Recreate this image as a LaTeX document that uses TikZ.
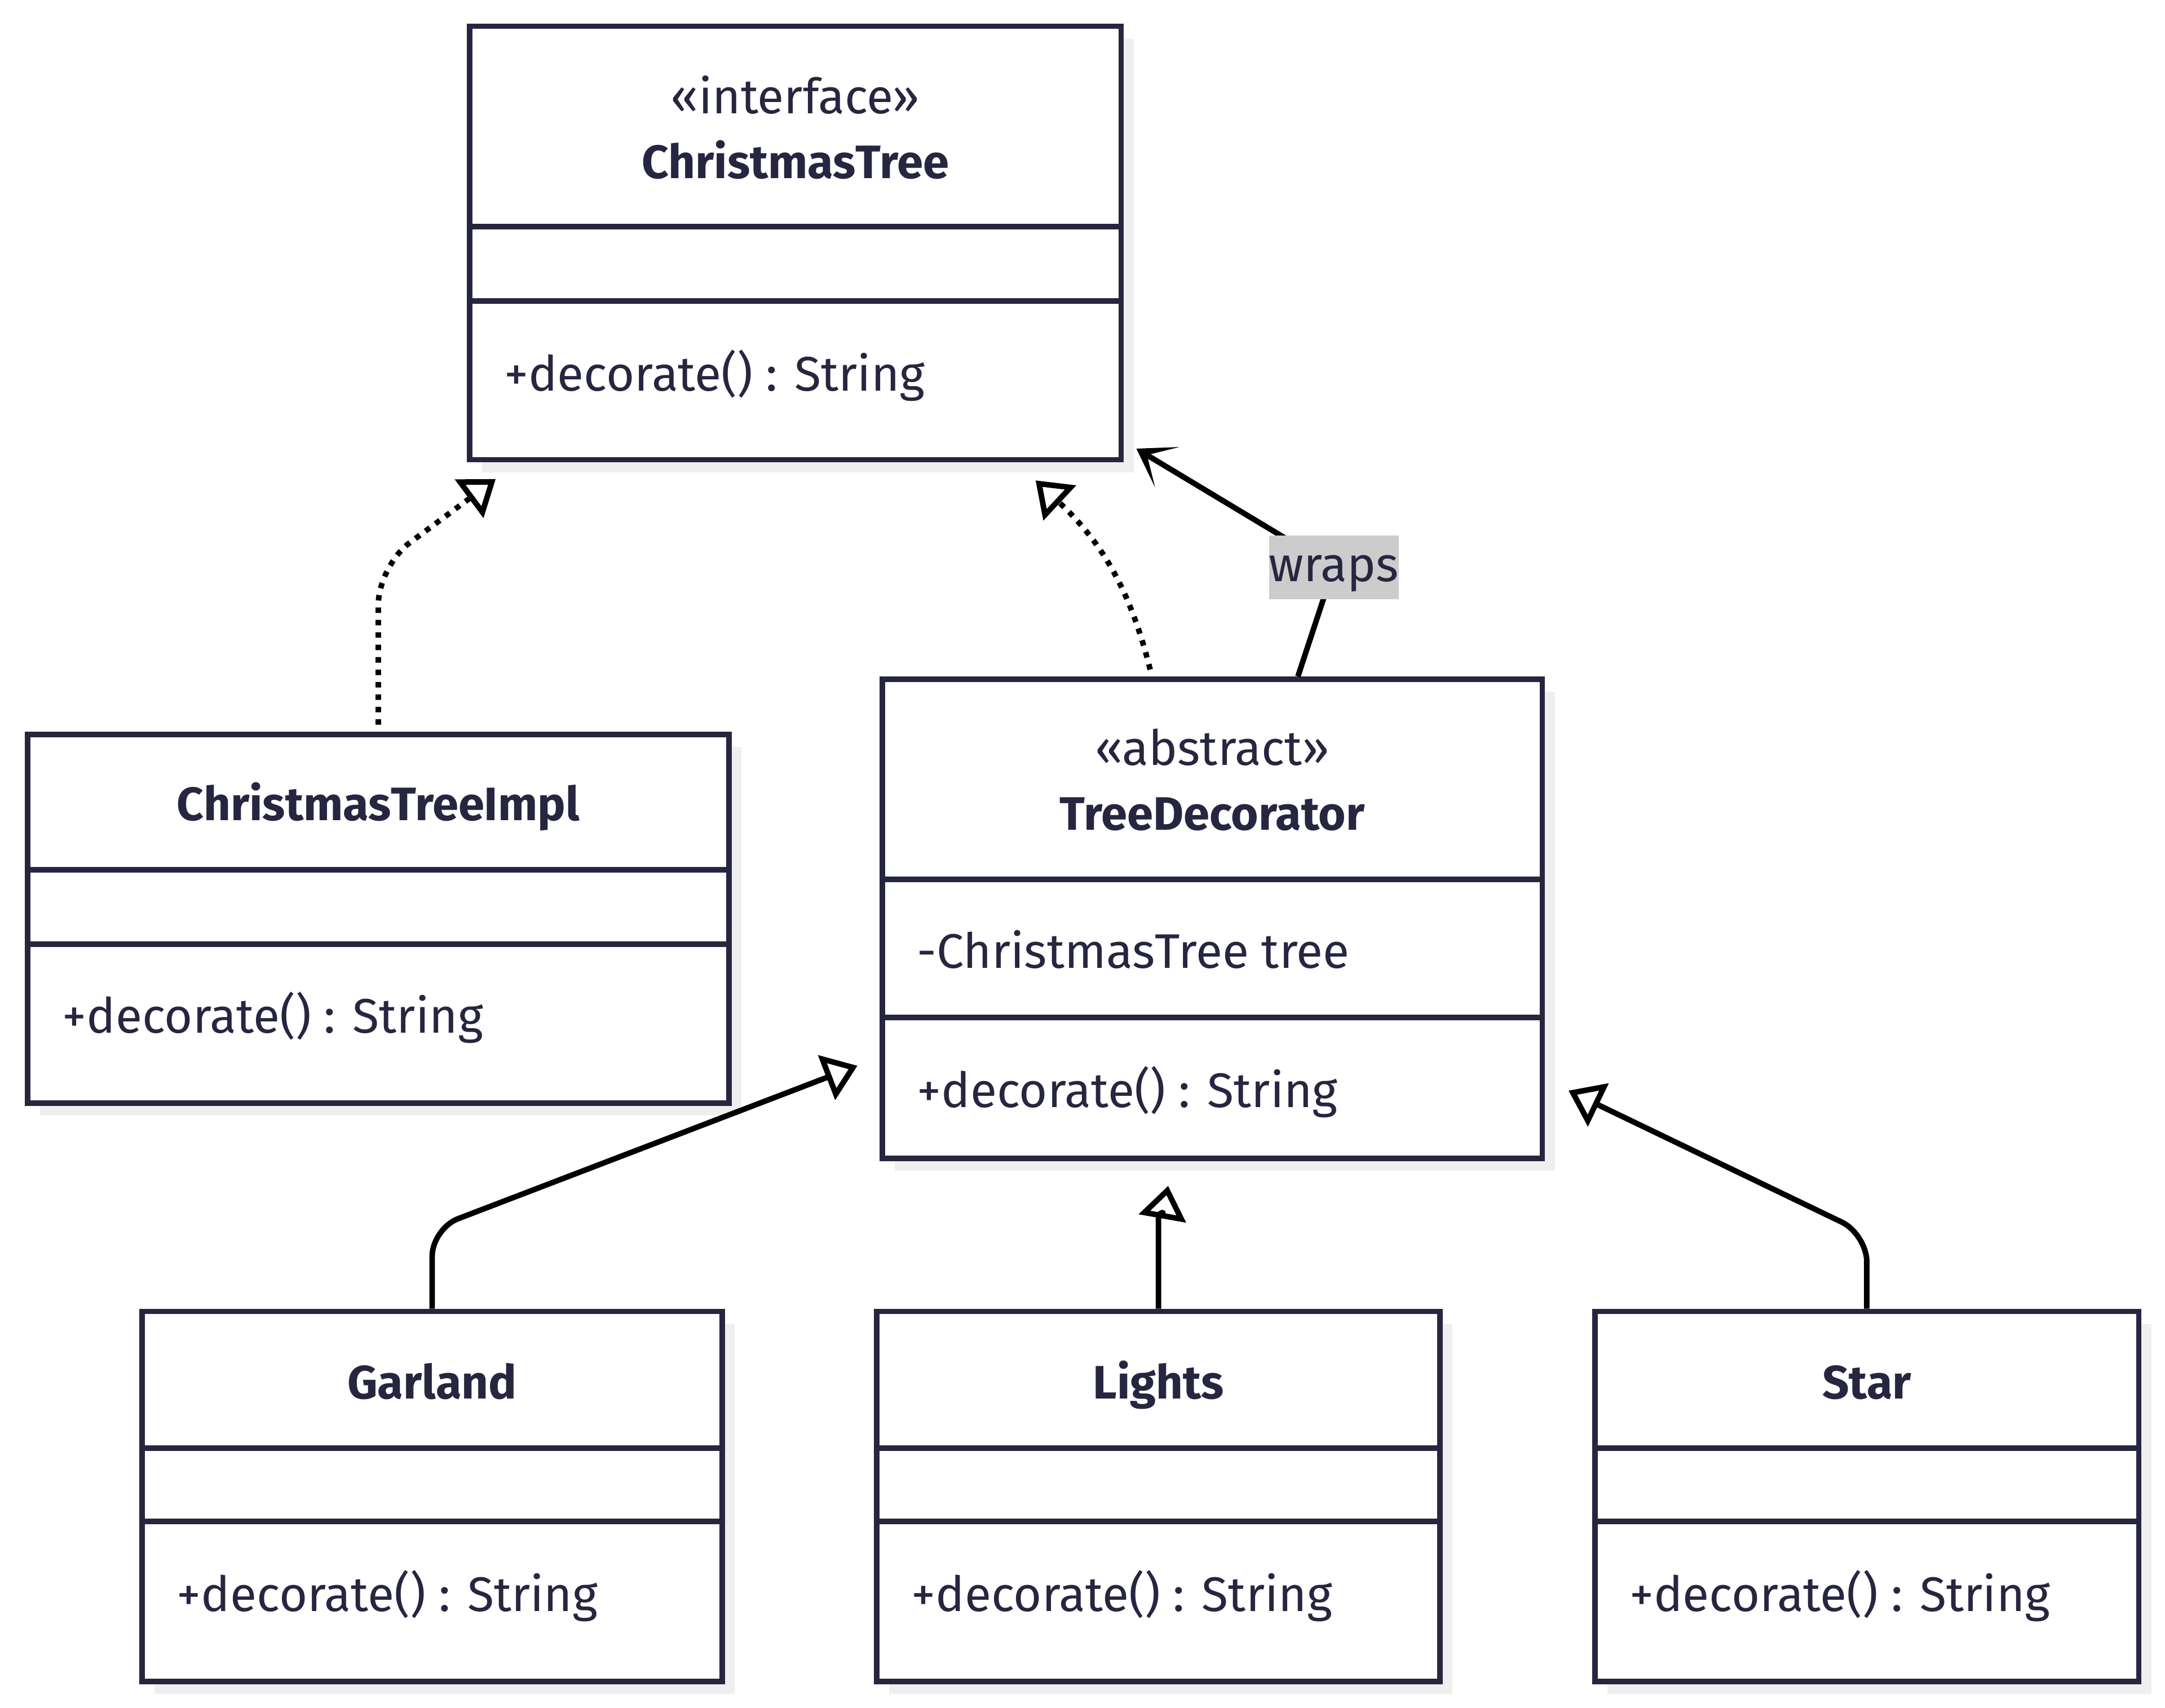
\documentclass[tikz,border=0pt]{standalone}
\usepackage{fontspec}
\setmainfont{Fira Sans}
\usetikzlibrary{arrows.meta,shadows}
\definecolor{ink}{HTML}{272640}
\definecolor{shade}{HTML}{EFEFEF}
\definecolor{labelgray}{HTML}{CCCCCC}

\begin{document}
\begin{tikzpicture}[x=1pt, y=1pt,
  classbox/.style={draw=ink, line width=\lw, fill=white, anchor=north west, inner sep=0pt,
    drop shadow={shadow xshift=9pt, shadow yshift=-9pt, fill=shade, opacity=1}},
  divider/.style={draw=ink, line width=\lw},
  stereo/.style={text=ink, font=\fontsize{\fs}{\fs}\selectfont, inner sep=0pt, anchor=mid, yshift=-9.5pt},
  classname/.style={stereo, font=\bfseries\fontsize{\bfs}{\bfs}\selectfont},
  member/.style={stereo, anchor=mid west},
  realize/.style={line width=\lw, dash pattern=on 4pt off 5pt, -{Triangle[open, length=24pt, width=34pt]}},
  inherit/.style={line width=\lw, rounded corners=20pt, -{Triangle[open, length=24pt, width=34pt]}},
  assoc/.style={line width=\lw, -{Stealth[length=26pt, width=34pt, inset=17pt]}},
  edgelabel/.style={fill=labelgray, text=ink, font=\fontsize{\fs}{\fs}\selectfont,
    inner sep=0pt, text height=20pt, text depth=0pt, minimum width=91pt, minimum height=46pt}]
\def\lw{4pt}    % line width of boxes and arrows
\def\fs{35.2}   % font size
\def\bfs{34}    % font size of class names
\def\pad{27pt}  % left padding of members

\useasboundingbox (0,0) rectangle (1568,-1237);

% the interface
\node[classbox, minimum width=472pt, minimum height=314pt] (tree) at (338,-17) {};
\draw[divider] ([yshift=-147pt]tree.north west) -- ([yshift=-147pt]tree.north east);
\draw[divider] ([yshift=-201pt]tree.north west) -- ([yshift=-201pt]tree.north east);
\node[stereo] (tree-st) at ([yshift=-53pt]tree.north) {«interface»};
\node[classname] (tree-nm) at ([yshift=-100pt]tree.north) {ChristmasTree};
\node[member] (tree-op) at ([xshift=\pad, yshift=-254pt]tree.north west) {+decorate() : String};

% the implementation
\node[classbox, minimum width=508pt, minimum height=267pt] (impl) at (18,-530) {};
\draw[divider] ([yshift=-100pt]impl.north west) -- ([yshift=-100pt]impl.north east);
\draw[divider] ([yshift=-154pt]impl.north west) -- ([yshift=-154pt]impl.north east);
\node[classname] (impl-nm) at ([yshift=-52pt]impl.north) {ChristmasTreeImpl};
\node[member] (impl-op) at ([xshift=\pad, yshift=-206pt]impl.north west) {+decorate() : String};

% the abstract decorator
\node[classbox, minimum width=478pt, minimum height=347pt] (dec) at (637,-490) {};
\draw[divider] ([yshift=-147pt]dec.north west) -- ([yshift=-147pt]dec.north east);
\draw[divider] ([yshift=-247pt]dec.north west) -- ([yshift=-247pt]dec.north east);
\node[stereo] (dec-st) at ([yshift=-52pt]dec.north) {«abstract»};
\node[classname] (dec-nm) at ([yshift=-99pt]dec.north) {TreeDecorator};
\node[member] (dec-at) at ([xshift=\pad, yshift=-199pt]dec.north west) {-ChristmasTree tree};
\node[member] (dec-op) at ([xshift=\pad, yshift=-300pt]dec.north west) {+decorate() : String};

% the concrete decorators
\node[classbox, minimum width=420pt, minimum height=268pt] (garland) at (101,-948) {};
\draw[divider] ([yshift=-101pt]garland.north west) -- ([yshift=-101pt]garland.north east);
\draw[divider] ([yshift=-154pt]garland.north west) -- ([yshift=-154pt]garland.north east);
\node[classname] (garland-nm) at ([yshift=-53pt]garland.north) {Garland};
\node[member] (garland-op) at ([xshift=\pad, yshift=-207pt]garland.north west) {+decorate() : String};

\node[classbox, minimum width=408pt, minimum height=268pt] (lights) at (633,-948) {};
\draw[divider] ([yshift=-101pt]lights.north west) -- ([yshift=-101pt]lights.north east);
\draw[divider] ([yshift=-154pt]lights.north west) -- ([yshift=-154pt]lights.north east);
\node[classname] (lights-nm) at ([yshift=-53pt]lights.north) {Lights};
\node[member] (lights-op) at ([xshift=\pad, yshift=-207pt]lights.north west) {+decorate() : String};

\node[classbox, minimum width=394pt, minimum height=268pt] (star) at (1153,-948) {};
\draw[divider] ([yshift=-101pt]star.north west) -- ([yshift=-101pt]star.north east);
\draw[divider] ([yshift=-154pt]star.north west) -- ([yshift=-154pt]star.north east);
\node[classname] (star-nm) at ([yshift=-53pt]star.north) {Star};
\node[member] (star-op) at ([xshift=\pad, yshift=-207pt]star.north west) {+decorate() : String};

% realizations
\draw[realize, rounded corners=28pt] ([yshift=5pt]impl.north) -- ([yshift=120pt]impl.north)
  -- ([xshift=21pt, yshift=-12pt]tree.south west);
\draw[realize] ([xshift=-45pt, yshift=5pt]dec.north) to[out=104, in=-43]
  ([xshift=-64pt, yshift=-13pt]tree.south east);

% association
\coordinate (wrapsat) at (966,-411);
\draw[assoc] ([xshift=62pt]dec.north) -- (wrapsat) -- ([xshift=9pt, yshift=10pt]tree.south east);
\node[edgelabel] (wraps) at (wrapsat) {wraps};

% inheritance
\draw[inherit] (garland.north) -- ([yshift=58pt]garland.north)
  -- ([xshift=-16pt, yshift=69pt]dec.south west);
\draw[inherit] (lights.north) -- ([yshift=50pt]lights.north) to[out=90, in=-100]
  ([xshift=-32pt, yshift=-18pt]dec.south);
\draw[inherit] (star.north) -- ([yshift=54pt]star.north)
  -- ([xshift=17pt, yshift=51pt]dec.south east);

\end{tikzpicture}
\end{document}
